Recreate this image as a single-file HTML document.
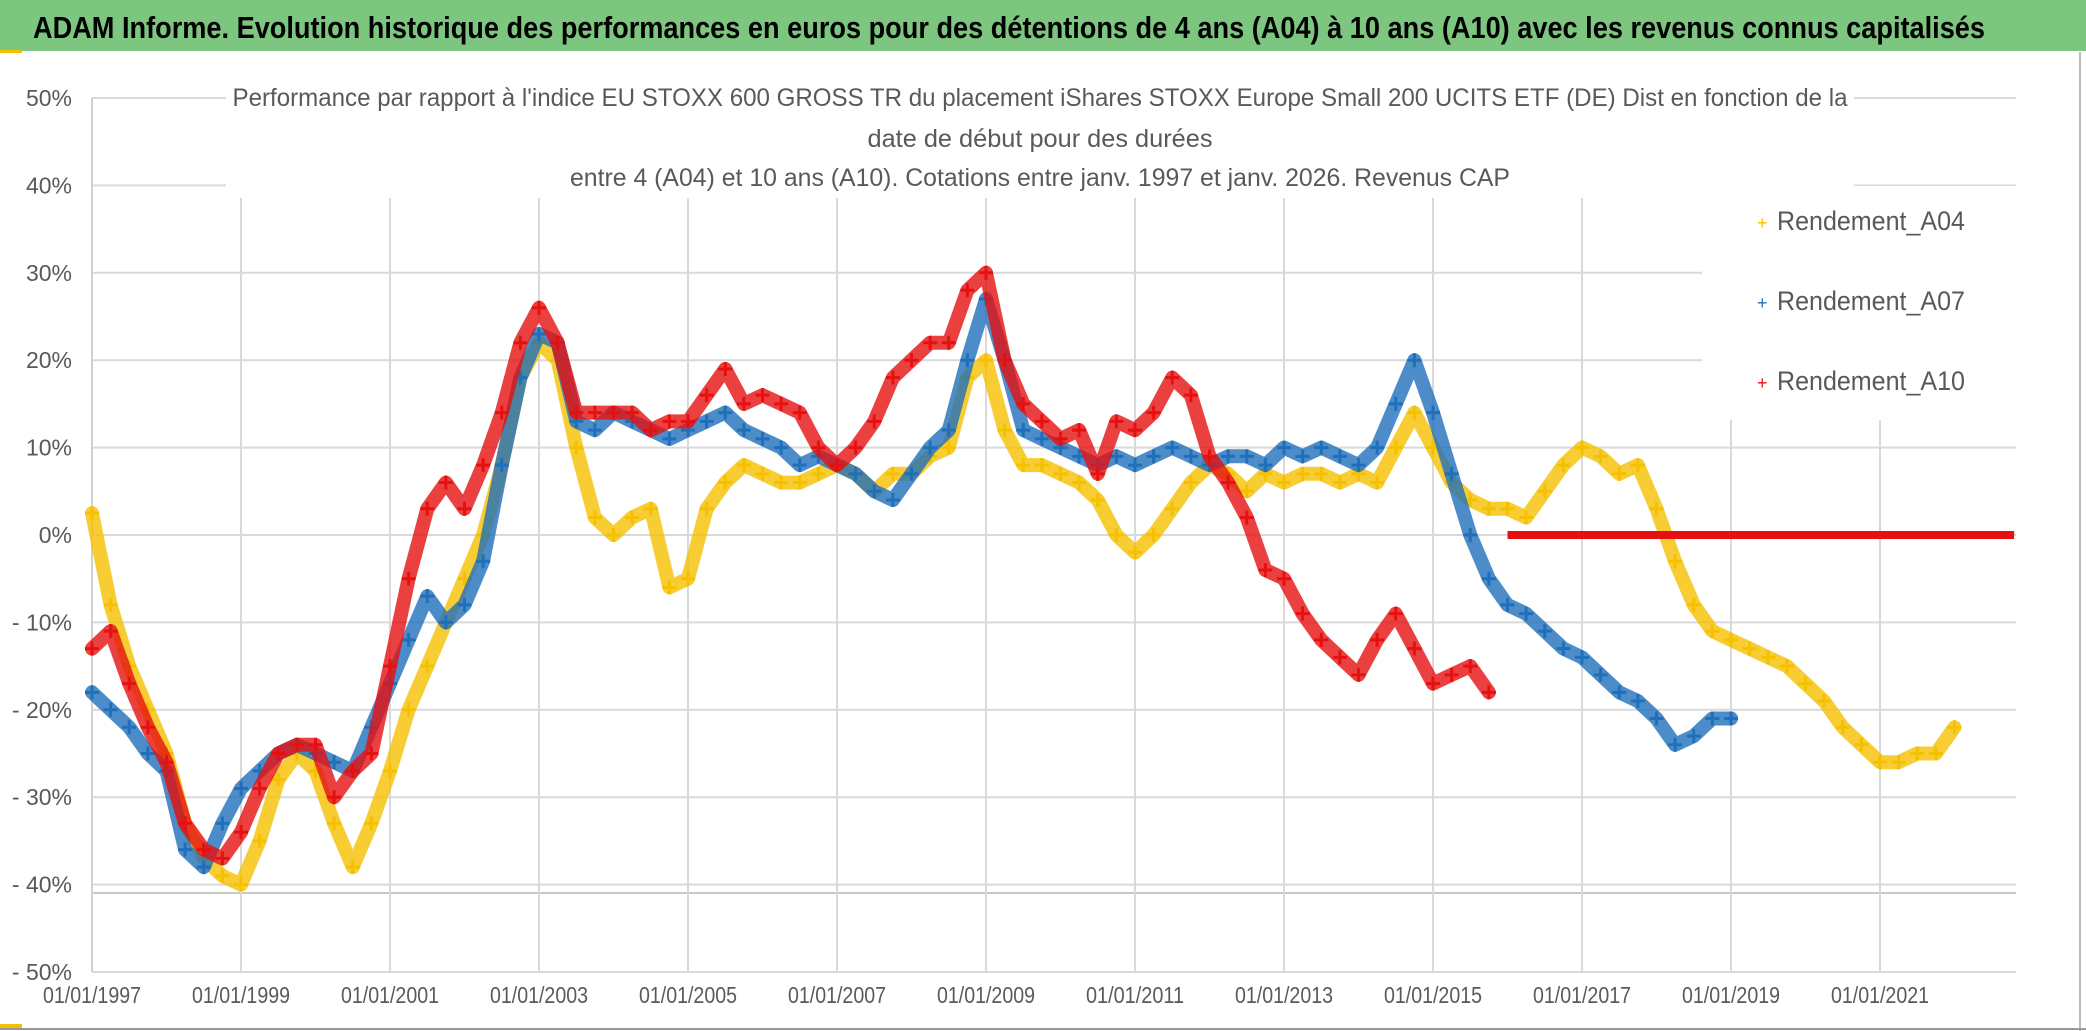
<!DOCTYPE html>
<html><head><meta charset="utf-8"><style>
html,body{margin:0;padding:0;background:#fff;}
svg{display:block;font-family:"Liberation Sans",sans-serif;}
</style></head><body>
<svg id="chart" width="2086" height="1031" viewBox="0 0 2086 1031">
<rect x="0" y="0" width="2086" height="1031" fill="#fff"/>
<rect x="0" y="0" width="2086" height="51" fill="#7dc67f"/>
<text x="33" y="38" font-size="31" font-weight="bold" fill="#000" textLength="1952" lengthAdjust="spacingAndGlyphs">ADAM Informe. Evolution historique des performances en euros pour des détentions de 4 ans (A04) à 10 ans (A10) avec les revenus connus capitalisés</text>
<rect x="0" y="50" width="22" height="3" fill="#f5c000"/>
<rect x="0" y="1024" width="22" height="4" fill="#f5c000"/>
<line x1="2080" y1="52" x2="2080" y2="1031" stroke="#bbb" stroke-width="2"/>
<line x1="0" y1="1029" x2="2086" y2="1029" stroke="#999" stroke-width="2"/>
<g id="grid"></g>
<g id="marks"></g>
<rect x="226" y="70" width="1628" height="127" fill="#fff"/>
<g fill="#595959" font-size="25" text-anchor="middle">
<text x="1040" y="106" textLength="1615" lengthAdjust="spacingAndGlyphs">Performance par rapport à l'indice EU STOXX 600 GROSS TR  du placement iShares STOXX Europe Small 200 UCITS ETF (DE) Dist en fonction de la</text>
<text x="1040" y="147" textLength="345" lengthAdjust="spacingAndGlyphs">date de début pour des durées</text>
<text x="1040" y="186" textLength="940" lengthAdjust="spacingAndGlyphs">entre 4 (A04) et 10 ans (A10). Cotations entre janv. 1997 et janv. 2026. Revenus CAP</text>
</g>
<rect x="1702" y="186" width="314" height="234" fill="#fff"/>
<g font-size="27" fill="#595959">
<g><text x="1757" y="229" fill="#f5c000" font-size="18">+</text><text x="1777" y="230" textLength="188" lengthAdjust="spacingAndGlyphs">Rendement_A04</text></g>
<g><text x="1757" y="309" fill="#1f6fba" font-size="18">+</text><text x="1777" y="310" textLength="188" lengthAdjust="spacingAndGlyphs">Rendement_A07</text></g>
<g><text x="1757" y="389" fill="#e51010" font-size="18">+</text><text x="1777" y="390" textLength="188" lengthAdjust="spacingAndGlyphs">Rendement_A10</text></g>
</g>
<g id="axes"></g>
</svg>
<script>
const yTicks=[50,40,30,20,10,0,-10,-20,-30,-40,-50];
const yTickLabels=["50%","40%","30%","20%","10%","0%","- 10%","- 20%","- 30%","- 40%","- 50%"];
const xTickYears=[1997,1999,2001,2003,2005,2007,2009,2011,2013,2015,2017,2019,2021];
const xTickLabels=["01/01/1997","01/01/1999","01/01/2001","01/01/2003","01/01/2005","01/01/2007","01/01/2009","01/01/2011","01/01/2013","01/01/2015","01/01/2017","01/01/2019","01/01/2021"];
const seriesStart=1997;
const seriesStep=0.25;
const a04=[2.5,-8,-15,-20,-25,-33,-37,-39,-40,-35,-28,-25,-27,-33,-38,-33,-27,-20,-15,-10,-5,0,8,18,22,20,10,2,0,2,3,-6,-5,3,6,8,7,6,6,7,8,7,5,7,7,9,10,18,20,12,8,8,7,6,4,0,-2,0,3,6,8,7,5,7,6,7,7,6,7,6,10,14,10,6,4,3,3,2,5,8,10,9,7,8,3,-3,-8,-11,-12,-13,-14,-15,-17,-19,-22,-24,-26,-26,-25,-25,-22];
const a07=[-18,-20,-22,-25,-27,-36,-38,-33,-29,-27,-25,-24,-25,-26,-27,-22,-17,-12,-7,-10,-8,-3,8,18,23,22,13,12,14,13,12,11,12,13,14,12,11,10,8,9,8,7,5,4,7,10,12,20,27,20,12,11,10,9,8,9,8,9,10,9,8,9,9,8,10,9,10,9,8,10,15,20,14,7,0,-5,-8,-9,-11,-13,-14,-16,-18,-19,-21,-24,-23,-21,-21];
const a10=[-13,-11,-17,-22,-26,-33,-36,-37,-34,-29,-25,-24,-24,-30,-27,-25,-15,-5,3,6,3,8,14,22,26,22,14,14,14,14,12,13,13,16,19,15,16,15,14,10,8,10,13,18,20,22,22,28,30,20,15,13,11,12,7,13,12,14,18,16,9,6,2,-4,-5,-9,-12,-14,-16,-12,-9,-13,-17,-16,-15,-18];
const a04FlatYears=[2022.0,2022.8];
const a04FlatValues=[0,0];
const a10FlatYears=[2016,2022.8];
const a10FlatValues=[0,0];

const NS="http://www.w3.org/2000/svg";
const X0=92,PX_PER_YEAR=74.5,Y_TOP=98,PX_PER_PCT=8.74;
const xs=y=>X0+(y-1997)*PX_PER_YEAR;
const ys=v=>Y_TOP+(50-v)*PX_PER_PCT;
const plotRight=2016;
function mk(tag,attrs,parent){const e=document.createElementNS(NS,tag);for(const k in attrs)e.setAttribute(k,attrs[k]);parent.appendChild(e);return e;}
const grid=document.getElementById('grid'),marks=document.getElementById('marks'),axes=document.getElementById('axes');
yTicks.forEach((t,i)=>{
  const l=mk('line',{x1:X0,x2:plotRight,y1:ys(t),y2:ys(t),stroke:'#d9d9d9','stroke-width':2},grid);
  
  
  const tx=mk('text',{x:72,y:ys(t)+8,'text-anchor':'end','font-size':23,fill:'#595959'},axes);
  tx.textContent=yTickLabels[i];
  
  
});
const extra=mk('line',{x1:X0,x2:plotRight,y1:893,y2:893,stroke:'#c8c8c8','stroke-width':2},grid);


xTickYears.forEach((yr,i)=>{
  if(i>0){const l=mk('line',{x1:xs(yr),x2:xs(yr),y1:198,y2:ys(-50),stroke:'#d9d9d9','stroke-width':2},grid);
  
  }
  const tx=mk('text',{x:xs(yr),y:1003,'text-anchor':'middle','font-size':23,fill:'#595959',textLength:98,lengthAdjust:'spacingAndGlyphs'},axes);
  tx.textContent=xTickLabels[i];
  
  
});
const ax=mk('line',{x1:X0,x2:X0,y1:ys(50),y2:ys(-50),stroke:'#d0d0d0','stroke-width':2},grid);


function drawSeries(vals,color,name){
  const g=mk('g',{},marks);
  
  
  const pts=vals.map((v,i)=>xs(seriesStart+i*seriesStep).toFixed(1)+','+ys(v).toFixed(1)).join(' ');
  const pl=mk('polyline',{points:pts,fill:'none',stroke:color,'stroke-width':14,'stroke-linejoin':'round','stroke-linecap':'round',opacity:0.8},g);
  
  
  vals.forEach((v,i)=>{
    const x=xs(seriesStart+i*seriesStep),y=ys(v);
    const p=mk('path',{d:`M${x-7},${y}H${x+7}M${x},${y-7}V${y+7}`,stroke:color,'stroke-width':3},g);
    
    
  });
}
drawSeries(a04,'#f5c000','series-a04');
const f4=mk('line',{x1:xs(a04FlatYears[0]),x2:xs(a04FlatYears[1]),y1:ys(a04FlatValues[0]),y2:ys(a04FlatValues[1]),stroke:'#f5c000','stroke-width':6},marks);


drawSeries(a07,'#1f6fba','series-a07');
drawSeries(a10,'#e51010','series-a10');
const flat=mk('line',{x1:xs(a10FlatYears[0]),x2:xs(a10FlatYears[1]),y1:ys(a10FlatValues[0]),y2:ys(a10FlatValues[1]),stroke:'#e51010','stroke-width':8},marks);


</script>
</body></html>
